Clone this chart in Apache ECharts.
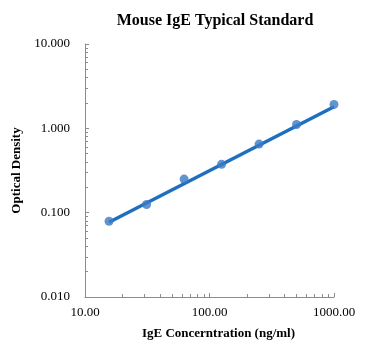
<!DOCTYPE html>
<html>
<head>
<meta charset="utf-8">
<script src="https://cdn.jsdelivr.net/npm/echarts@6/dist/echarts.min.js"></script>
<style>
  html, body { margin: 0; padding: 0; background: #fff; }
  #chart { width: 368px; height: 353px; }
</style>
</head>
<body>
<div id="chart"></div>
<script>
// standard concentrations (ng/ml) and measured OD
const concentrations = [15.6, 31.25, 62.5, 125, 250, 500, 1000];
const odValues = [0.079, 0.125, 0.25, 0.374, 0.65, 1.11, 1.92];
// fitted trend line, read at its two ends
const trendX = [15.6, 1000];
const trendY = [0.077, 1.8];

const serif = '"Liberation Serif", "Times New Roman", serif';
const axisGray = '#8c8c8c';

const chart = echarts.init(document.getElementById('chart'));

const tickStyle = {
	axisLine: { show: true, lineStyle: { color: axisGray, width: 1 } },
	axisTick: { show: true, inside: true, length: 4, lineStyle: { color: axisGray } },
	minorTick: { show: true, splitNumber: 9, length: 3, lineStyle: { color: axisGray } },
	splitLine: { show: false },
	minorSplitLine: { show: false },
};

chart.setOption({
	animation: false,
	title: {
		text: 'Mouse IgE Typical Standard',
		left: 210,
		top: 8,
		textAlign: 'center',
		textStyle: { fontFamily: serif, fontSize: 16, fontWeight: 'bold', color: '#000' },
	},
	grid: { left: 85, right: 34, top: 44, bottom: 56 },
	xAxis: {
		type: 'log',
		logBase: 10,
		min: 10,
		max: 1000,
		name: 'IgE Concerntration (ng/ml)',
		nameLocation: 'middle',
		nameGap: 30,
		nameTextStyle: {
			fontFamily: serif, fontSize: 13, fontWeight: 'bold', color: '#000',
			padding: [0, 0, 0, 18],
		},
		axisLabel: {
			fontFamily: serif, fontSize: 13, color: '#000', margin: 9,
			formatter: (v) => v.toFixed(2),
		},
		...tickStyle,
	},
	yAxis: {
		type: 'log',
		logBase: 10,
		min: 0.01,
		max: 10,
		name: 'Optical Density',
		nameLocation: 'middle',
		nameGap: 51,
		nameTextStyle: { fontFamily: serif, fontSize: 13, fontWeight: 'bold', color: '#000' },
		axisLabel: {
			fontFamily: serif, fontSize: 13, color: '#000', margin: 15,
			formatter: (v) => v.toFixed(3),
		},
		...tickStyle,
	},
	series: [
		{
			type: 'line',
			data: trendX.map((x, i) => [x, trendY[i]]),
			symbol: 'none',
			lineStyle: { color: '#1f6fbf', width: 3.5 },
			z: 2,
		},
		{
			type: 'scatter',
			data: concentrations.map((x, i) => [x, odValues[i]]),
			symbol: 'circle',
			symbolSize: 9,
			itemStyle: { color: '#3b7bc4' },
			z: 3,
		},
	],
});
</script>
</body>
</html>
